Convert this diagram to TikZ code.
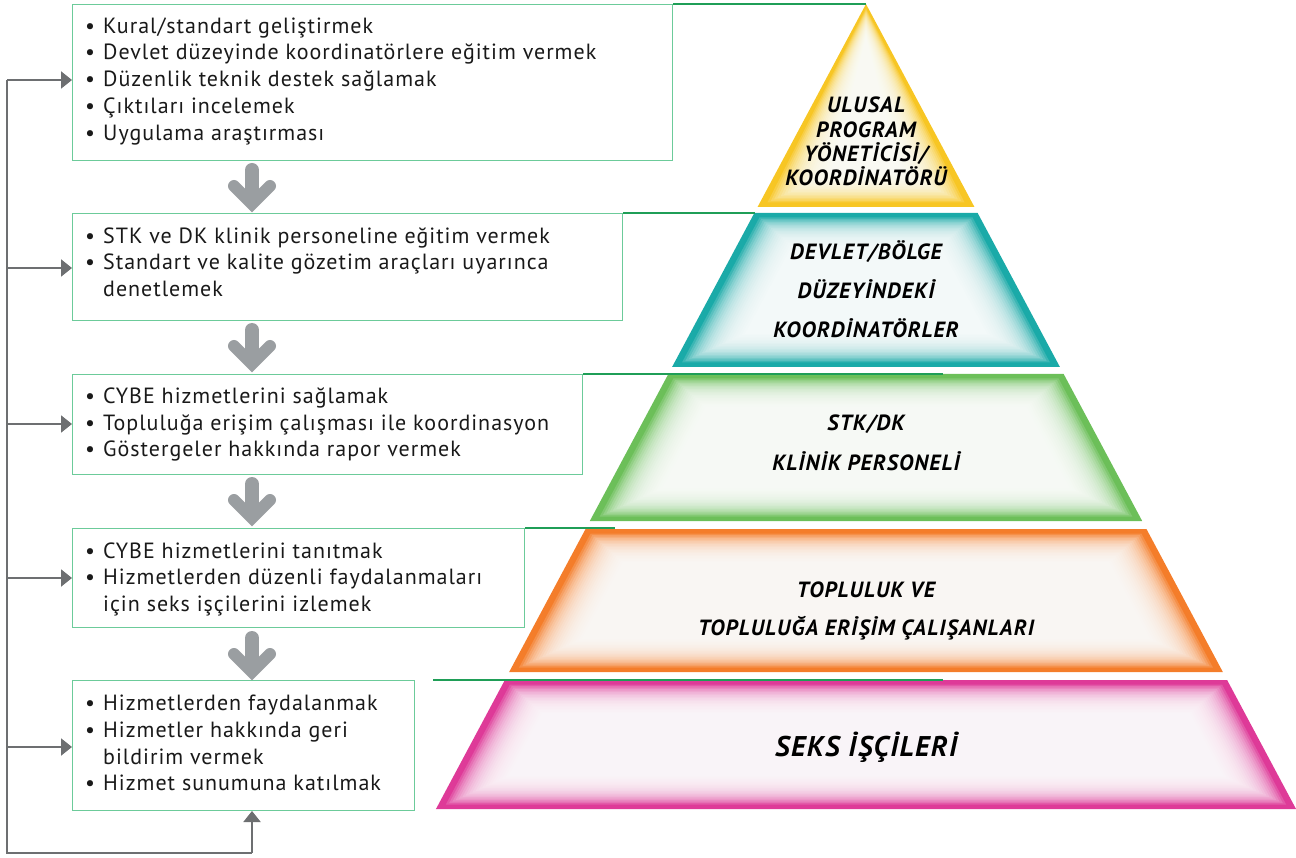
\documentclass[tikz,border=0pt]{standalone}
\usepackage{fontspec}
\setmainfont{PT Sans}
\newfontfamily\bodyfont[LetterSpace=4.5]{PT Sans}
\newfontfamily\lblfont[LetterSpace=5]{PT Sans}
\usetikzlibrary{arrows.meta}
\definecolor{boxgreen}{HTML}{6CCB9A}
\definecolor{linegreen}{HTML}{1F9E57}
\definecolor{arrowgray}{HTML}{9A9EA1}
\definecolor{fbgray}{HTML}{6D6F71}
\definecolor{tyellow}{HTML}{F7C624}
\definecolor{tteal}{HTML}{1AAAA8}
\definecolor{tgreen}{HTML}{6CBF59}
\definecolor{torange}{HTML}{F47D2A}
\definecolor{tpink}{HTML}{DE3A98}
\newcommand\tier[3]{%
  \pgfmathsetmacro\wT{0.5342*(#2-4)}%
  \pgfmathsetmacro\wB{0.5342*(#3-4)}%
  \fill[#1] (866-\wT,#2) -- (866+\wT,#2) -- (866+\wB,#3) -- (866-\wB,#3) -- cycle;
  \foreach \k in {1,...,20}{%
    \pgfmathsetmacro\yA{#2+3+\k*1.5}%
    \pgfmathsetmacro\yB{#3-3-\k*1.5}%
    \pgfmathsetmacro\xA{max(0.5342*(\yA-4)-5-\k*2.5,0)}%
    \pgfmathsetmacro\xB{max(0.5342*(\yB-4)-5-\k*2.5,0)}%
    \fill[white,opacity=0.15] (866-\xA,\yA) -- (866+\xA,\yA) -- (866+\xB,\yB) -- (866-\xB,\yB) -- cycle;
  }%
}
\newcommand\bul{\makebox[18pt][l]{•}}
\newcommand\ind{\hspace*{18pt}}
\newcommand\grayarrow[1]{%
  \draw[bigshaft] (252,#1+7) -- (252,#1+38);
  \draw[bighead] (234,#1+23) -- (252,#1+41) -- (270,#1+23);
}
\tikzset{
  box/.style={draw=boxgreen, line width=1pt, anchor=north west, inner sep=0pt},
  btxt/.style={anchor=base west, inner sep=0pt, font=\bodyfont\fontsize{22}{26.7}\selectfont, text=black!90},
  tl/.style={anchor=base, inner sep=0pt, font=\lblfont\fontsize{22}{24.3}\selectfont\bfseries\itshape, text=black},
  ext/.style={linegreen, line width=1.3pt},
  fb/.style={fbgray, line width=2pt},
  fba/.style={fbgray, line width=2pt, -{Triangle[length=11pt,width=17pt]}},
  bigshaft/.style={arrowgray, line width=14pt, line cap=round},
  bighead/.style={arrowgray, line width=12pt, line cap=round, line join=miter},
}
\begin{document}
\begin{tikzpicture}[x=1pt,y=-1pt]
\useasboundingbox (0,0) rectangle (1296,858);
% pyramid
\tier{tyellow}{4}{207}
\tier{tteal}{213}{367}
\tier{tgreen}{374}{521}
\tier{torange}{529}{672}
\tier{tpink}{680}{809}
% labels
\node[tl] (L1) at (866,113) {\parbox[t]{250pt}{\centering ULUSAL\\PROGRAM\\YÖNETİCİSİ/\\KOORDİNATÖRÜ}};
\node[tl, font=\lblfont\fontsize{22}{39}\selectfont\bfseries\itshape] (L2) at (866,260) {\parbox[t]{300pt}{\centering DEVLET/BÖLGE\\DÜZEYİNDEKİ\\KOORDİNATÖRLER}};
\node[tl, font=\lblfont\fontsize{22}{40}\selectfont\bfseries\itshape] (L3) at (866,431) {\parbox[t]{300pt}{\centering STK/DK\\KLİNİK PERSONELİ}};
\node[tl, font=\lblfont\fontsize{22}{38}\selectfont\bfseries\itshape] (L4) at (866,597) {\parbox[t]{400pt}{\centering TOPLULUK VE\\TOPLULUĞA ERİŞİM ÇALIŞANLARI}};
\node[tl, font=\lblfont\fontsize{28.5}{30}\selectfont\bfseries\itshape] (L5) at (866,756) {SEKS İŞÇİLERİ};
% boxes
\node[box, minimum width=600pt, minimum height=156pt] (box1) at (72,4) {};
\node[box, minimum width=550pt, minimum height=107pt] (box2) at (72,213) {};
\node[box, minimum width=510pt, minimum height=100pt] (box3) at (72,374) {};
\node[box, minimum width=452pt, minimum height=99pt] (box4) at (72,528) {};
\node[box, minimum width=342pt, minimum height=130pt] (box5) at (72,680) {};
% extension lines
\coordinate (e1) at (866,4);
\coordinate (e2) at (755,213);
\coordinate (e3) at (943,374);
\coordinate (e4) at (615,528);
\coordinate (e5a) at (433,680);
\coordinate (e5b) at (943,680);
\draw[ext] (box1.north east) -- (e1);
\draw[ext] (box2.north east) -- (e2);
\draw[ext] (box3.north east) -- (e3);
\draw[ext] (box4.north east) -- (e4);
\draw[ext] (e5a) -- (e5b);
% box texts
\node[btxt] (t1) at (85,33.3) {\parbox[t]{580pt}{\raggedright
\bul Kural/standart geliştirmek\\
\bul Devlet düzeyinde koordinatörlere eğitim vermek\\
\bul Düzenlik teknik destek sağlamak\\
\bul Çıktıları incelemek\\
\bul Uygulama araştırması}};
\node[btxt] (t2) at (85,243.3) {\parbox[t]{530pt}{\raggedright
\bul STK ve DK klinik personeline eğitim vermek\\
\bul Standart ve kalite gözetim araçları uyarınca\\
\ind denetlemek}};
\node[btxt] (t3) at (85,403.5) {\parbox[t]{490pt}{\raggedright
\bul CYBE hizmetlerini sağlamak\\
\bul Topluluğa erişim çalışması ile koordinasyon\\
\bul Göstergeler hakkında rapor vermek}};
\node[btxt] (t4) at (85,558) {\parbox[t]{440pt}{\raggedright
\bul CYBE hizmetlerini tanıtmak\\
\bul Hizmetlerden düzenli faydalanmaları\\
\ind için seks işçilerini izlemek}};
\node[btxt] (t5) at (85,710.7) {\parbox[t]{330pt}{\raggedright
\bul Hizmetlerden faydalanmak\\
\bul Hizmetler hakkında geri\\
\ind bildirim vermek\\
\bul Hizmet sunumuna katılmak}};
% big gray arrows
\grayarrow{163}
\grayarrow{323}
\grayarrow{477}
\grayarrow{631}
% feedback loop
\coordinate (fbTop) at (7,80);
\coordinate (f2) at (7,268);
\coordinate (f3) at (7,424);
\coordinate (f4) at (7,578);
\coordinate (f5) at (7,747);
\coordinate (fbBot) at (7,853);
\coordinate (fbX) at (252,853);
\draw[fb] (fbTop) -- (fbBot) -- (fbX);
\draw[fba] (fbX) -- (fbX |- box5.south);
\draw[fba] (fbTop) -- (fbTop -| box1.west);
\draw[fba] (f2) -- (f2 -| box2.west);
\draw[fba] (f3) -- (f3 -| box3.west);
\draw[fba] (f4) -- (f4 -| box4.west);
\draw[fba] (f5) -- (f5 -| box5.west);
\end{tikzpicture}
\end{document}
